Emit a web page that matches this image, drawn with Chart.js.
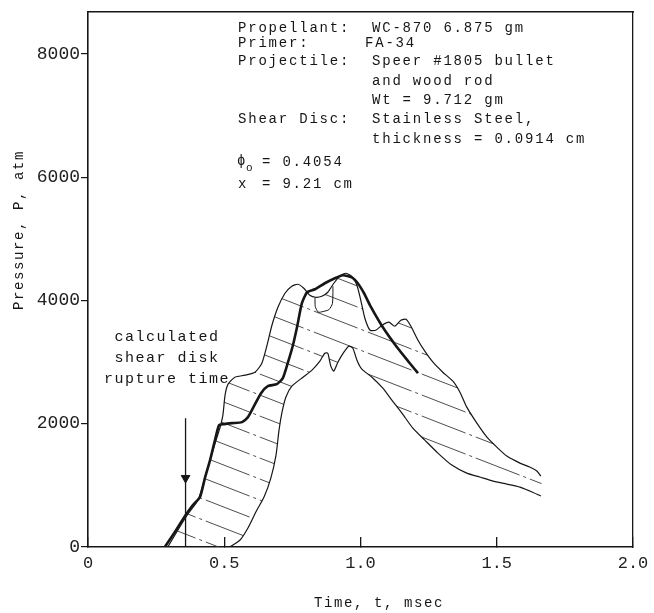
<!DOCTYPE html>
<html>
<head>
<meta charset="utf-8">
<script src="https://cdn.jsdelivr.net/npm/chart.js@4.4.1/dist/chart.umd.min.js"></script>
<style>
  html, body { margin: 0; padding: 0; background: #fff; }
</style>
</head>
<body>
<canvas id="chart" width="654" height="613"></canvas>
<script>
// tick values / labels
const xTicks = [0, 0.5, 1.0, 1.5, 2.0];
const xTickLabels = ['0', '0.5', '1.0', '1.5', '2.0'];
const yTicks = [0, 2000, 4000, 6000, 8000];

// upper edge of the hatched band (t in msec, P in atm)
const upperT = [0.293, 0.330, 0.367, 0.404, 0.429, 0.451, 0.470, 0.484, 0.495, 0.503, 0.514, 0.539, 0.576, 0.613,
  0.638, 0.657, 0.675, 0.697, 0.723, 0.748, 0.770, 0.792, 0.814, 0.836, 0.858, 0.880, 0.902, 0.924, 0.946, 0.968,
  0.987, 1.001, 1.016, 1.035, 1.056, 1.079, 1.104, 1.126, 1.148, 1.167, 1.185, 1.211, 1.236, 1.266, 1.302, 1.339,
  1.365, 1.390, 1.427, 1.464, 1.504, 1.537, 1.585, 1.621, 1.647, 1.662];
const upperP = [0, 276, 535, 762, 1118, 1459, 1734, 1929, 2139, 2464, 2642, 2755, 2788, 2836,
  2982, 3274, 3598, 3890, 4117, 4230, 4263, 4198, 4084, 4052, 4068, 4133, 4279, 4392, 4441, 4392,
  4246, 4003, 3712, 3517, 3517, 3598, 3647, 3582, 3679, 3695, 3582, 3355, 3177, 2998, 2836, 2690,
  2512, 2269, 2010, 1783, 1605, 1475, 1361, 1297, 1232, 1151];

// lower edge of the band
const lowerT = [0.521, 0.558, 0.587, 0.616, 0.646, 0.671, 0.690, 0.701, 0.712, 0.726, 0.748, 0.789, 0.822, 0.851,
  0.869, 0.880, 0.891, 0.902, 0.917, 0.939, 0.957, 0.972, 0.987, 1.005, 1.042, 1.082, 1.115, 1.152, 1.192, 1.236,
  1.284, 1.335, 1.390, 1.438, 1.486, 1.537, 1.585, 1.621, 1.662];
const lowerP = [0, 113, 308, 567, 810, 1118, 1491, 1896, 2188, 2431, 2609, 2755, 2869, 3015,
  3144, 3144, 2934, 2853, 2998, 3161, 3258, 3225, 3031, 2885, 2755, 2577, 2382, 2172, 1929, 1734,
  1524, 1329, 1199, 1135, 1070, 1021, 972, 908, 827];

// heavy curve
const boldT = [0.282, 0.319, 0.356, 0.385, 0.411, 0.429, 0.448, 0.466, 0.481, 0.499, 0.528, 0.565, 0.587, 0.609,
  0.635, 0.660, 0.693, 0.715, 0.734, 0.752, 0.767, 0.785, 0.804, 0.833, 0.869, 0.906, 0.935, 0.968, 0.990, 1.013,
  1.035, 1.082, 1.134, 1.181, 1.211];
const boldP = [0, 243, 502, 681, 810, 1118, 1410, 1734, 1977, 1994, 2010, 2026, 2107, 2285,
  2496, 2609, 2642, 2739, 2998, 3274, 3566, 3955, 4133, 4182, 4279, 4360, 4408, 4376, 4279, 4117,
  3922, 3566, 3241, 2982, 2820];

// small notch inside the band near the first peak
const notchT = [0.833, 0.834, 0.845, 0.862, 0.884, 0.897, 0.899];
const notchP = [4050, 3900, 3810, 3820, 3850, 3950, 4230];

// rupture time arrow
const arrowT = [0.358, 0.358];
const arrowP = [2090, 0];
const arrowHeadT = [0.358];
const arrowHeadP = [1120];

// text block
const noteLeft = ['Propellant:', 'Primer:', 'Projectile:', '', '', 'Shear Disc:', '', '', 'x'];
const noteRight = ['WC-870 6.875 gm', 'FA-34', 'Speer #1805 bullet', 'and wood rod', 'Wt = 9.712 gm',
  'Stainless Steel,', 'thickness = 0.0914 cm', '= 0.4054', '= 9.21 cm'];
const arrowNote = ['calculated', 'shear disk', 'rupture time'];
const xTitle = 'Time, t, msec';
const yTitle = 'Pressure, P, atm';

const INK = '#161616';
const MONO = '"Liberation Mono", "DejaVu Sans Mono", monospace';

const pts = (ts, ps) => ts.map((t, i) => ({ x: t, y: ps[i] }));

function hatchPattern() {
    const W = 54, H = 21;
    const c = document.createElement('canvas');
    c.width = W; c.height = H;
    const g = c.getContext('2d');
    g.strokeStyle = '#3a3a3a';
    g.lineWidth = 0.9;
    g.setLineDash([36, 4, 3, 4]);
    [-H, 0, H].forEach(dy => {
        g.beginPath();
        g.moveTo(0, dy);
        g.lineTo(W, dy + H);
        g.stroke();
    });
    return g.createPattern(c, 'repeat');
}

// band outline: upper edge out, lower edge back
const bandPoly = pts(upperT, upperP).concat(pts(lowerT, lowerP).reverse());

const textPlugin = {
    id: 'notes',
    afterDraw(chart) {
        const ctx = chart.ctx;
        ctx.save();
        ctx.fillStyle = INK;
        ctx.textBaseline = 'middle';
        ctx.font = '14px ' + MONO;
        ctx.letterSpacing = '1.8px';

        const rowY = [28, 43, 61, 81, 100, 119, 139, 162, 184];
        noteLeft.forEach((s, i) => { if (s) ctx.fillText(s, 238, rowY[i]); });
        noteRight.forEach((s, i) => {
            const x = i >= 7 ? 262 : (i === 1 ? 365 : 372);
            ctx.fillText(s, x, rowY[i]);
        });
        // phi with subscript o
        ctx.fillText('\u03D5', 237, rowY[7] - 1);
        ctx.font = '11px ' + MONO;
        ctx.letterSpacing = '0px';
        ctx.fillText('o', 246, rowY[7] + 6);

        // arrow label
        ctx.font = '15px ' + MONO;
        ctx.letterSpacing = '1.5px';
        ctx.textAlign = 'center';
        [337, 358, 379].forEach((y, i) => ctx.fillText(arrowNote[i], 167, y));

        // axis titles
        ctx.font = '14px ' + MONO;
        ctx.letterSpacing = '1.6px';
        ctx.fillText(xTitle, 379, 603);
        ctx.translate(19, 230);
        ctx.rotate(-Math.PI / 2);
        ctx.fillText(yTitle, 0, 0);
        ctx.restore();
    }
};

const lineStyle = { pointRadius: 0, fill: false, tension: 0.2, borderColor: INK, showLine: true };

new Chart(document.getElementById('chart').getContext('2d'), {
    type: 'line',
    data: {
        datasets: [
            { ...lineStyle, data: pts(boldT, boldP), borderWidth: 2.6 },
            { ...lineStyle, data: pts(upperT, upperP), borderWidth: 1.2 },
            { ...lineStyle, data: pts(lowerT, lowerP), borderWidth: 1.2 },
            { ...lineStyle, data: pts(notchT, notchP), borderWidth: 1.0 },
            { ...lineStyle, data: pts(arrowT, arrowP), borderWidth: 1.3, tension: 0 },
            { data: pts(arrowHeadT, arrowHeadP), showLine: false, pointStyle: 'triangle', rotation: 180,
              pointRadius: 5, pointBackgroundColor: INK, pointBorderColor: INK, pointBorderWidth: 1 },
            { data: bandPoly, fill: 'shape', backgroundColor: hatchPattern(), borderColor: 'rgba(0,0,0,0)',
              borderWidth: 1, pointRadius: 0, tension: 0.2 }
        ]
    },
    options: {
        responsive: false,
        animation: false,
        events: [],
        layout: { padding: { top: 12, right: 21, left: 0, bottom: 0 } },
        plugins: { legend: { display: false }, tooltip: { enabled: false } },
        scales: {
            x: {
                type: 'linear', position: 'bottom', min: 0, max: 2,
                afterBuildTicks: s => { s.ticks = xTicks.map(v => ({ value: v })); },
                afterFit: s => { s.height = 66; s.paddingLeft = 0; s.paddingRight = 0; },
                grid: { drawOnChartArea: false, tickLength: -10, color: INK, lineWidth: 1.3 },
                border: { color: INK, width: 1.6 },
                ticks: { padding: 16, color: '#222', autoSkip: false, maxRotation: 0,
                         font: { family: MONO, size: 17 }, callback: (v, i) => xTickLabels[i] }
            },
            y: {
                type: 'linear', position: 'left', min: 0, max: 8680,
                afterBuildTicks: s => { s.ticks = yTicks.map(v => ({ value: v })); },
                afterFit: s => { s.width = 88; s.paddingTop = 0; s.paddingBottom = 0; },
                grid: { drawOnChartArea: false, tickLength: 7, color: INK, lineWidth: 1.2 },
                border: { color: INK, width: 1.6 },
                ticks: { padding: 1, color: '#222', font: { family: MONO, size: 18 }, callback: v => String(v) }
            },
            x2: {
                type: 'linear', position: 'top', min: 0, max: 2,
                afterFit: s => { s.height = 0; s.paddingLeft = 0; s.paddingRight = 0; },
                grid: { drawOnChartArea: false, drawTicks: false },
                border: { color: INK, width: 1.5 },
                ticks: { display: false }
            },
            y2: {
                type: 'linear', position: 'right', min: 0, max: 8680,
                afterFit: s => { s.width = 0; s.paddingTop = 0; s.paddingBottom = 0; },
                grid: { drawOnChartArea: false, drawTicks: false },
                border: { color: INK, width: 1.3 },
                ticks: { display: false }
            }
        }
    },
    plugins: [textPlugin]
});
</script>
</body>
</html>
